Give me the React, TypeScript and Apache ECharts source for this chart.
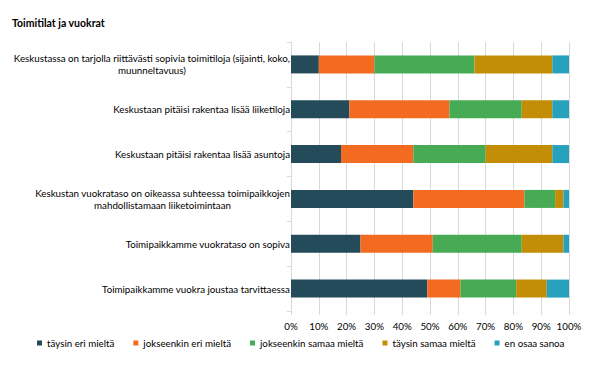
import React, { useEffect, useRef } from "react";
import * as echarts from "echarts";

const title = "Toimitilat ja vuokrat";
const categories = [
  "Keskustassa on tarjolla riittävästi sopivia toimitiloja (sijainti, koko,\nmuunneltavuus)",
  "Keskustaan pitäisi rakentaa lisää liiketiloja",
  "Keskustaan pitäisi rakentaa lisää asuntoja",
  "Keskustan vuokrataso on oikeassa suhteessa toimipaikkojen\nmahdollistamaan liiketoimintaan",
  "Toimipaikkamme vuokrataso on sopiva",
  "Toimipaikkamme vuokra joustaa tarvittaessa",
];
const seriesNames = [
  "täysin eri mieltä",
  "jokseenkin eri mieltä",
  "jokseenkin samaa mieltä",
  "täysin samaa mieltä",
  "en osaa sanoa",
];
const taysinEri = [10, 21, 18, 44, 25, 49];
const jokseenkinEri = [20, 36, 26, 40, 26, 12];
const jokseenkinSamaa = [36, 26, 26, 11, 32, 20];
const taysinSamaa = [28, 11, 24, 3, 15, 11];
const enOsaa = [6, 6, 6, 2, 2, 8];
const colors = ["#244B5A", "#F26B21", "#47AB55", "#C38E05", "#27A1BC"];
const xTicks = [0, 10, 20, 30, 40, 50, 60, 70, 80, 90, 100];

const FONT = "Lato";
const FS = 9.75;

export default function App() {
  const ref = useRef<HTMLDivElement>(null);
  useEffect(() => {
    if (!ref.current) return;
    const chart = echarts.init(ref.current, null, { renderer: "svg" });
    const data = [taysinEri, jokseenkinEri, jokseenkinSamaa, taysinSamaa, enOsaa];
    chart.setOption({
      animation: false,
      textStyle: { fontFamily: FONT },
      title: {
        text: title,
        left: 4,
        top: 9,
        padding: 0,
        textStyle: { fontSize: 10.5, fontWeight: "bold", color: "#000", fontFamily: FONT },
      },
      legend: {
        left: 29,
        top: 330,
        padding: 0,
        itemWidth: 5,
        itemHeight: 5,
        itemGap: 19,
        icon: "rect",
        textStyle: { fontSize: FS, color: "#000", fontFamily: FONT },
        data: seriesNames,
      },
      grid: { left: 283, right: 30, top: 34, bottom: 76, containLabel: false },
      xAxis: {
        type: "value",
        min: 0,
        max: 100,
        interval: 10,
        axisLine: { show: false },
        axisTick: { show: true, length: 4, inside: false, lineStyle: { color: "#d9d9d9" } },
        splitLine: { show: true, lineStyle: { color: "#d9d9d9", width: 1 } },
        axisLabel: {
          formatter: (v: number) => (xTicks.includes(v) ? v + "%" : ""),
          fontSize: FS,
          color: "#000",
          margin: 10,
          fontFamily: FONT,
        },
      },
      yAxis: {
        type: "category",
        inverse: true,
        data: categories,
        axisLine: { show: true, lineStyle: { color: "#d9d9d9" } },
        axisTick: { show: true, length: 4, lineStyle: { color: "#d9d9d9" } },
        axisLabel: {
          fontSize: FS,
          color: "#000",
          margin: 1,
          lineHeight: 12,
          fontFamily: FONT,
          formatter: (v: string) =>
            v
              .split("\n")
              .map((l) => "{c|" + l + "}")
              .join("\n"),
          rich: { c: { align: "center", fontSize: FS, color: "#000", lineHeight: 12, fontFamily: FONT } },
        },
      },
      series: seriesNames.map((name, i) => ({
        name,
        type: "bar",
        stack: "total",
        barWidth: 18,
        data: data[i],
        itemStyle: { color: colors[i] },
      })),
    });
    return () => chart.dispose();
  }, []);
  return <div ref={ref} style={{ width: 591, height: 379 }} />;
}
